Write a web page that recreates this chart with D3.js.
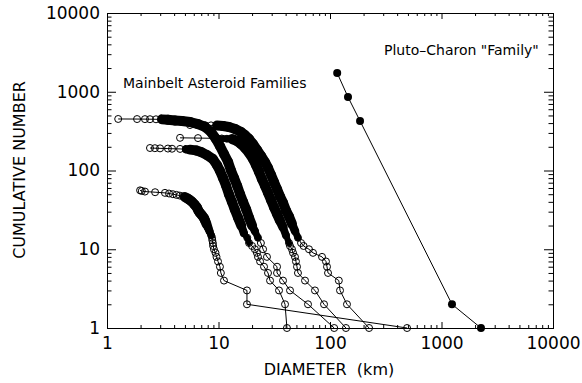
<!DOCTYPE html>
<html>
<head>
<meta charset="utf-8">
<script src="https://cdn.jsdelivr.net/npm/d3@7"></script>
<style>
  body { margin: 0; background: #fff; }
  text { font-family: "DejaVu Sans", sans-serif; fill: #000; }
</style>
</head>
<body>
<svg id="chart" width="582" height="383"></svg>
<script>
// tick values (log axes)
const xTicks = [1, 10, 100, 1000, 10000];
const yTicks = [1, 10, 100, 1000, 10000];

// [diameter km, cumulative number]
const famA = [[1.26,451],[1.86,450],[2.19,449],[2.43,448],[2.75,447],[3.11,446],[3.52,440],[4.07,432],[4.71,425],[5.55,413],[6.55,389],[7.57,357],[8.57,308],[9.5,251],[10.3,205],[11.2,162],[12.2,128],[12.9,101],[13.8,80],[14.7,64],[15.6,50],[16.6,40],[17.7,32],[18.8,25],[20.0,20],[21.2,17],[22.6,14],[24.0,12],[25.1,10],[27.2,8],[33.5,6],[33.5,5],[37.9,4],[43.8,3],[63.5,2],[109,1]];
const famB = [[4.52,260],[6.55,258],[9.70,256],[10.7,255],[11.9,253],[13.2,251],[14.7,237],[15.9,217],[17.3,193],[18.8,167],[20.4,140],[21.7,117],[23.1,96],[24.5,78],[26.1,64],[27.8,52],[29.6,42],[31.5,34],[33.5,28],[35.6,23],[37.9,19],[40.3,15],[42.9,12],[43.8,11],[45.6,10],[46.6,9],[48.5,8],[49.5,7],[50.6,6],[51.6,5],[59.7,4],[73.3,3],[88.4,2],[139,1]];
const famC = [[5.55,378],[7.57,376],[8.57,374],[9.70,372],[11.0,367],[12.4,357],[14.1,336],[15.9,308],[17.2,282],[18.8,251],[20.4,217],[22.2,182],[24.1,153],[26.1,128],[27.8,108],[29.6,88],[31.5,71],[33.5,58],[35.6,47],[37.9,39],[40.3,31],[42.9,26],[45.6,21],[48.6,17],[51.6,14],[55.0,12],[58.0,11],[64.8,10],[70.4,9],[84.8,8],[92,7],[94.0,6],[96.0,5],[120,4],[123,3],[142,2],[224,1]];
const famD = [[2.43,193],[2.69,192],[2.99,191],[3.52,190],[3.83,189],[4.52,188],[5.11,186],[5.55,184],[6.28,180],[6.97,172],[7.9,157],[8.9,140],[9.7,117],[10.3,99],[11.0,80],[11.7,64],[12.4,50],[13.2,40],[14.0,32],[15.0,25],[16.0,20],[16.9,16],[18.1,14],[18.8,12],[20.0,11],[21.2,10],[22.1,9],[22.6,8],[23.6,7],[25.6,6],[27.8,5],[29.0,4],[34.9,3],[39.5,2],[41.1,1]];
const famVesta = [[1.98,56],[2.05,55],[2.19,54],[2.70,53],[3.31,52],[3.6,51],[3.9,50],[4.2,49],[4.5,48],[4.8,47],[5.0,46],[5.3,44],[5.55,42],[5.8,40],[6.1,37],[6.4,34],[6.6,31],[6.8,29],[7.1,27],[7.4,25],[7.6,23],[7.8,21],[8.05,19],[8.3,17],[8.6,15],[8.75,14],[8.8,13],[8.9,12],[8.95,11],[9.1,10],[9.4,9],[9.6,8],[9.9,7],[10.3,6],[10.5,5],[11.2,4],[18,3],[18,2],[491,1]];
const plutoCharon = [[116,1730],[145,857],[186,425],[1242,2],[2260,1]];

const mainbelt = [famA, famB, famC, famD, famVesta];

const svg = d3.select('#chart');
const x = d3.scaleLog().domain([1, 10000]).range([107, 553]);
const y = d3.scaleLog().domain([1, 10000]).range([328, 13]);

// minor ticks 2..9 in every decade
const minorX = [], minorY = [];
xTicks.slice(0, -1).forEach(d => { for (let k = 2; k < 10; k++) minorX.push(d * k); });
yTicks.slice(0, -1).forEach(d => { for (let k = 2; k < 10; k++) minorY.push(d * k); });

function styleAxis(g, size) {
  g.select('.domain').remove();
  g.selectAll('line').attr('stroke', '#000');
  g.selectAll('text').style('font-size', size + 'px').attr('fill', '#000')
    .style('font-family', '"DejaVu Sans", sans-serif');
}

const fmt = d3.format('d');
// bottom
svg.append('g').attr('transform', `translate(0,${y.range()[0]})`)
  .call(d3.axisBottom(x).tickValues(xTicks).tickSize(-6).tickPadding(9).tickFormat(fmt))
  .call(g => styleAxis(g, 17));
svg.append('g').attr('transform', `translate(0,${y.range()[0]})`)
  .call(d3.axisBottom(x).tickValues(minorX).tickSize(-3).tickFormat(''))
  .call(g => styleAxis(g, 0));
// top
svg.append('g').attr('transform', `translate(0,${y.range()[1]})`)
  .call(d3.axisTop(x).tickValues(xTicks).tickSize(-6).tickFormat(''))
  .call(g => styleAxis(g, 0));
svg.append('g').attr('transform', `translate(0,${y.range()[1]})`)
  .call(d3.axisTop(x).tickValues(minorX).tickSize(-3).tickFormat(''))
  .call(g => styleAxis(g, 0));
// left
svg.append('g').attr('transform', `translate(${x.range()[0]},0)`)
  .call(d3.axisLeft(y).tickValues(yTicks).tickSize(-9).tickPadding(7).tickFormat(fmt))
  .call(g => styleAxis(g, 17));
svg.append('g').attr('transform', `translate(${x.range()[0]},0)`)
  .call(d3.axisLeft(y).tickValues(minorY).tickSize(-4.5).tickFormat(''))
  .call(g => styleAxis(g, 0));
// right
svg.append('g').attr('transform', `translate(${x.range()[1]},0)`)
  .call(d3.axisRight(y).tickValues(yTicks).tickSize(-9).tickFormat(''))
  .call(g => styleAxis(g, 0));
svg.append('g').attr('transform', `translate(${x.range()[1]},0)`)
  .call(d3.axisRight(y).tickValues(minorY).tickSize(-4.5).tickFormat(''))
  .call(g => styleAxis(g, 0));

// frame
svg.append('rect')
  .attr('x', x.range()[0] + 0.5).attr('y', y.range()[1] + 0.5)
  .attr('width', x.range()[1] - x.range()[0]).attr('height', y.range()[0] - y.range()[1])
  .attr('fill', 'none').attr('stroke', '#000').attr('stroke-width', 1);

const line = d3.line().x(d => x(d[0])).y(d => y(d[1]));
const plot = svg.append('g');

// connecting lines
plot.selectAll('path.fam').data(mainbelt).enter().append('path')
  .attr('class', 'fam').attr('d', line)
  .attr('fill', 'none').attr('stroke', '#000').attr('stroke-width', 1);

// where many members crowd between two read points the circles merge into a black band
mainbelt.forEach(fam => {
  for (let i = 1; i < fam.length; i++) {
    const a = fam[i - 1], b = fam[i];
    const dn = Math.abs(a[1] - b[1]);
    const dist = Math.hypot(x(b[0]) - x(a[0]), y(b[1]) - y(a[1]));
    const dens = dn / Math.max(dist, 0.5);
    if (dn >= 2 && dens > 0.35) {
      plot.append('line')
        .attr('x1', x(a[0])).attr('y1', y(a[1]))
        .attr('x2', x(b[0])).attr('y2', y(b[1]))
        .attr('stroke', '#000').attr('stroke-width', 10 * Math.min(1, dens / 0.6))
        .attr('stroke-linecap', 'round');
    }
  }
});

// open circles
mainbelt.forEach(fam => {
  plot.append('g').selectAll('circle').data(fam).enter().append('circle')
    .attr('cx', d => x(d[0])).attr('cy', d => y(d[1])).attr('r', 3.5)
    .attr('fill', 'none').attr('stroke', '#000').attr('stroke-width', 1);
});

// Pluto-Charon
plot.append('path').datum(plutoCharon).attr('d', line)
  .attr('fill', 'none').attr('stroke', '#000').attr('stroke-width', 1);
plot.selectAll('circle.pc').data(plutoCharon).enter().append('circle')
  .attr('class', 'pc')
  .attr('cx', d => x(d[0])).attr('cy', d => y(d[1])).attr('r', 4)
  .attr('fill', '#000');

// titles and labels
svg.append('text').attr('x', 329).attr('y', 375).attr('text-anchor', 'middle')
  .style('font-size', '16px').style('white-space', 'pre').text('DIAMETER  (km)');
svg.append('text').attr('transform', 'translate(25,170) rotate(-90)').attr('text-anchor', 'middle')
  .style('font-size', '16px').text('CUMULATIVE NUMBER');
svg.append('text').attr('x', 123).attr('y', 88)
  .style('font-size', '14px').text('Mainbelt Asteroid Families');
svg.append('text').attr('x', 384).attr('y', 55)
  .style('font-size', '14px').text('Pluto\u2013Charon "Family"');
</script>
</body>
</html>
